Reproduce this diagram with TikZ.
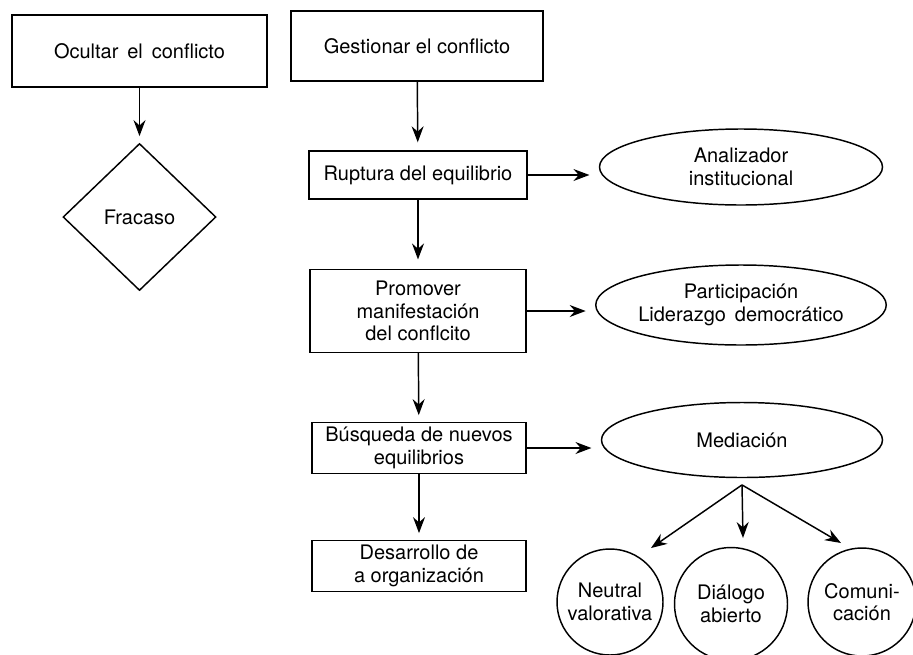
\documentclass[tikz,border=0pt]{standalone}
\usepackage{fontspec}
\setmainfont{TeX Gyre Heros}
\usetikzlibrary{shapes.geometric,arrows.meta}
\begin{document}
\begin{tikzpicture}[x=0.75pt,y=-0.75pt,
  every node/.style={font=\fontsize{15}{16.8}\selectfont, align=center, inner sep=0pt, line width=1.1pt},
  pbox/.style n args={2}{draw, rectangle, minimum width=#1*0.75pt, minimum height=#2*0.75pt},
  pell/.style n args={2}{draw, ellipse, minimum width=#1*0.75pt, minimum height=#2*0.75pt},
  pcirc/.style={draw, circle, minimum size=#1*0.75pt},
  pdiam/.style n args={2}{draw, diamond, minimum width=#1*0.75pt, minimum height=#2*0.75pt},
  flow/.style={-{Stealth[length=12pt,width=9pt,inset=4pt]}, line width=1.1pt, shorten >=5pt},
  side/.style={flow, shorten >=7pt}]
\useasboundingbox (0,0) rectangle (913,654);

% left column
\node[pbox={255}{72}] (ocultar) at (139.5,51) {Ocultar\, el\, conflicto};
\node[pdiam={153}{147}] (fracaso) at (139.5,217) {Fracaso};

% main column
\node[pbox={252}{70}] (gestionar) at (417,46) {Gestionar el conflicto};
\node[pbox={218}{48}] (ruptura) at (418,175) {Ruptura del equilibrio};
\node[pbox={216}{83}] (promover) at (418,311) {Promover\\manifestación\\del conflcito};
\node[pbox={214}{51}] (busqueda) at (419,448) {Búsqueda de nuevos\\equilibrios};
\node[pbox={214}{51}] (desarrollo) at (419,566) {Desarrollo de\\a organización};

% right column
\node[pell={283}{76}] (analizador) at (741,167) {Analizador\\institucional};
\node[pell={284}{80}] (participacion) at (741,305) {Participación\\Liderazgo\, democrático};
\node[pell={281}{75}] (mediacion) at (742,440) {Mediación};

\node[pcirc=106] (neutral) at (610,602) {Neutral\\valorativa};
\node[pcirc=113] (dialogo) at (731,604) {Diálogo\\abierto};
\node[pcirc=108] (comunicacion) at (862,602) {Comuni-\\cación};

% connectors
\draw[flow] (ocultar) -- (fracaso);
\draw[flow, shorten >=6pt] (gestionar) -- (ruptura);
\draw[flow, shorten >=7pt] (ruptura) -- (promover);
\draw[flow] (promover) -- (busqueda);
\draw[flow] (busqueda) -- (desarrollo);

\draw[side] (ruptura.east) -- (ruptura.east -| analizador.west);
\draw[side] (promover.east) -- (promover.east -| participacion.west);
\draw[side] (busqueda.east) -- (busqueda.east -| mediacion.west);

\coordinate (fan) at ([yshift=-5pt]mediacion.south);
\coordinate (tipN) at (651,548);
\coordinate (tipD) at (743,538);
\coordinate (tipC) at (841,543);
\draw[flow, shorten >=0pt] (fan) -- (tipN);
\draw[flow, shorten >=0pt] (fan) -- (tipD);
\draw[flow, shorten >=0pt] (fan) -- (tipC);
\end{tikzpicture}
\end{document}
